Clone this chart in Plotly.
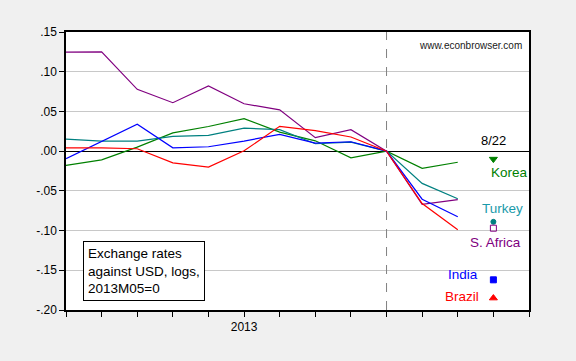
import plotly.graph_objects as go

months = ["2012M08", "2012M09", "2012M10", "2012M11", "2012M12", "2013M01",
          "2013M02", "2013M03", "2013M04", "2013M05", "2013M06", "2013M07"]
base_index = 9  # 2013M05 = 0

korea = [-0.018, -0.011, 0.005, 0.023, 0.031, 0.041, 0.024, 0.013, -0.0085, 0.0, -0.0216, -0.014]
turkey = [0.0152, 0.0127, 0.0127, 0.0185, 0.0198, 0.029, 0.027, 0.0093, 0.0114, 0.0, -0.0406, -0.060]
safrica = [0.1247, 0.125, 0.0778, 0.061, 0.082, 0.0597, 0.052, 0.017, 0.027, 0.0, -0.067, -0.061]
india = [-0.0094, 0.012, 0.034, 0.0042, 0.0055, 0.0127, 0.021, 0.010, 0.0118, 0.0, -0.0605, -0.0825]
brazil = [0.0042, 0.0042, 0.003, -0.0148, -0.020, 0.0004, 0.0312, 0.0258, 0.0178, 0.0, -0.066, -0.099]

# 8/22 observations (2013M08 position)
point_label = "8/22"
korea_822 = -0.010
turkey_822 = -0.089
safrica_822 = -0.097
india_822 = -0.162
brazil_822 = -0.185

ytick_vals = [0.15, 0.10, 0.05, 0.0, -0.05, -0.10, -0.15, -0.20]
ytick_text = [".15", ".10", ".05", ".00", "-.05", "-.10", "-.15", "-.20"]
xtick_label = "2013"
xtick_label_index = 5

x = list(range(len(months)))
x_pt = len(months)
FONT = "Arial, Liberation Sans, sans-serif"

fig = go.Figure()
series = [
    ("Korea", korea, "#008000", korea_822, "triangle-down", 7),
    ("Turkey", turkey, "#008080", turkey_822, "circle", 5),
    ("S. Africa", safrica, "#800080", safrica_822, "square-open", 6),
    ("India", india, "#0000ff", india_822, "square", 6),
    ("Brazil", brazil, "#ff0000", brazil_822, "triangle-up", 7),
]
for name, vals, col, pt, sym, sz in series:
    fig.add_trace(go.Scatter(x=x, y=vals, mode="lines", line=dict(color=col, width=1.2),
                             name=name, showlegend=False))
for name, vals, col, pt, sym, sz in series:
    fig.add_trace(go.Scatter(x=[x_pt], y=[pt], mode="markers",
                             marker=dict(color=col, symbol=sym, size=sz,
                                         line=dict(color=col, width=1)),
                             showlegend=False))

fig.add_vline(x=base_index, line=dict(color="#808080", width=1, dash="dash"))

ann = [
    ("Korea", 11.89, -0.0275, "left", "#008000"),
    ("Turkey", 12.88, -0.0716, "right", "#1a9aaa"),
    ("S. Africa", 12.82, -0.1147, "right", "#800080"),
    ("India", 11.62, -0.1553, "right", "#0000ff"),
    ("Brazil", 11.64, -0.1836, "right", "#ff0000"),
]
for txt, ax, ay, anc, col in ann:
    fig.add_annotation(x=ax, y=ay, text=txt, showarrow=False, xanchor=anc, yanchor="middle",
                       font=dict(family=FONT, size=13.5, color=col))
fig.add_annotation(x=x_pt, y=0.014, text=point_label, showarrow=False, xanchor="center",
                   yanchor="middle", font=dict(family=FONT, size=13, color="black"))
fig.add_annotation(xref="paper", yref="paper", x=0.9886, y=0.951, text="www.econbrowser.com",
                   showarrow=False, xanchor="right", yanchor="middle",
                   font=dict(family=FONT, size=10, color="#202020"))
fig.add_annotation(xref="paper", yref="paper", x=0.036, y=0.248,
                   text="Exchange rates<br>against USD, logs,<br>2013M05=0",
                   showarrow=False, xanchor="left", yanchor="top", align="left",
                   bordercolor="black", borderwidth=1, borderpad=4, bgcolor="white",
                   font=dict(family=FONT, size=13.5, color="black"))

ticktext_x = [xtick_label if i == xtick_label_index else "" for i in range(len(months) + 2)]
fig.update_xaxes(range=[0, len(months) + 1], tickvals=list(range(len(months) + 2)),
                 ticktext=ticktext_x, ticks="outside", ticklen=5, tickcolor="black",
                 showgrid=False, zeroline=False, showline=True, linecolor="black",
                 linewidth=1.5, mirror=True, tickfont=dict(family=FONT, size=12, color="black"))
fig.update_yaxes(range=[-0.20, 0.15], tickvals=ytick_vals, ticktext=ytick_text,
                 ticks="outside", ticklen=5, tickcolor="black", showgrid=True,
                 gridcolor="#c8c8c8", gridwidth=1, zeroline=True, zerolinecolor="black",
                 zerolinewidth=1.3, showline=True, linecolor="black", linewidth=1.5,
                 mirror=True, tickfont=dict(family=FONT, size=12, color="black"))
fig.update_layout(width=576, height=361, paper_bgcolor="#f0f0f0", plot_bgcolor="white",
                  margin=dict(l=66, r=47, t=32, b=51), showlegend=False)
fig.write_html("out.html", config={"displayModeBar": False},
               post_script="document.body.style.margin='0';"
                           "document.body.style.background='#f0f0f0';"
                           "document.body.style.overflow='hidden';")
